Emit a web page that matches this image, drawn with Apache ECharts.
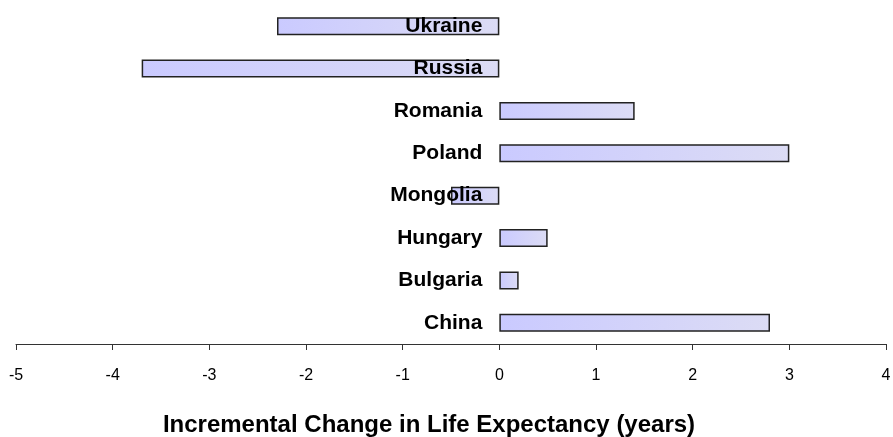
<!DOCTYPE html>
<html>
<head>
<meta charset="utf-8">
<script src="https://cdn.jsdelivr.net/npm/echarts@6/dist/echarts.min.js"></script>
<style>
  html, body { margin: 0; padding: 0; background: #fff; }
  #chart { width: 893px; height: 437px; }
</style>
</head>
<body>
<div id="chart"></div>
<script>
  // 国家（从下到上）
  var countries = ['China', 'Bulgaria', 'Hungary', 'Mongolia', 'Poland', 'Romania', 'Russia', 'Ukraine'];
  // 预期寿命增量变化 (years)
  var changes = [2.8, 0.2, 0.5, -0.5, 3.0, 1.4, -3.7, -2.3];
  var axisTitle = 'Incremental Change in Life Expectancy (years)';

  // 国家名放在零线左侧: 正值放柱子左边, 负值放柱子内部右侧
  var barData = changes.map(function (v) {
    return {
      value: v,
      label: {position: v < 0 ? 'insideRight' : 'left'}
    };
  });

  var myChart = echarts.init(document.getElementById('chart'));
  var option = {
    animation: false,
    grid: {
      left: 16,
      right: 7,
      top: 5,
      bottom: 93,
      containLabel: false,
      outerBoundsMode: 'none'
    },
    // x轴 数值
    xAxis: {
      type: 'value',
      min: -5,
      max: 4,
      interval: 1,
      name: axisTitle,
      nameLocation: 'middle',
      nameGap: 69,
      nameTextStyle: {
        fontFamily: 'Liberation Sans',
        fontWeight: 'bold',
        fontSize: 24,
        color: '#000',
        padding: [0, 44, 0, 0]
      },
      splitLine: {show: false},
      axisLine: {show: true, lineStyle: {color: '#333', width: 1}},
      axisTick: {show: true, inside: false, length: 6, lineStyle: {color: '#333'}},
      axisLabel: {
        margin: 24,
        fontFamily: 'Liberation Sans',
        fontSize: 16,
        color: '#000'
      }
    },
    // y轴 类目
    yAxis: {
      type: 'category',
      data: countries,
      axisLine: {show: false},
      axisTick: {show: false},
      axisLabel: {show: false}
    },
    series: [
      {
        type: 'bar',
        data: barData,
        barWidth: 18,
        itemStyle: {
          color: new echarts.graphic.LinearGradient(0, 0, 1, 0, [
            {offset: 0, color: '#cacaff'},
            {offset: 1, color: '#dcdcf5'}
          ]),
          borderColor: '#222',
          borderWidth: 1.5
        },
        label: {
          show: true,
          formatter: '{b}',
          distance: 17,
          fontFamily: 'Liberation Sans',
          fontWeight: 'bold',
          fontSize: 21,
          color: '#000'
        }
      }
    ]
  };
  myChart.setOption(option, true);
</script>
</body>
</html>
